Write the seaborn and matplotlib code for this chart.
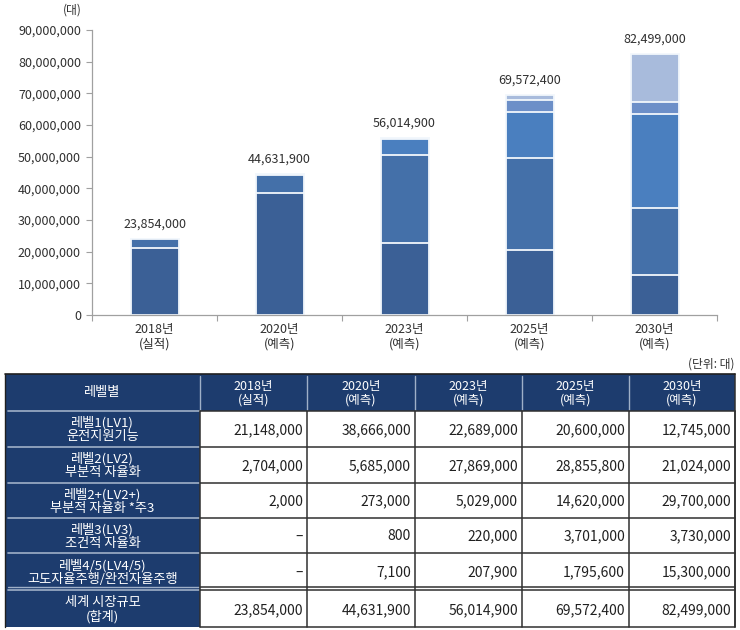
import numpy as np
import pandas as pd
import matplotlib
matplotlib.use("Agg")
import matplotlib.pyplot as plt
from matplotlib.patches import Rectangle
from matplotlib.ticker import FuncFormatter, FixedLocator
import seaborn as sns

# ---------------- data ----------------
years = ["2018년\n(실적)", "2020년\n(예측)", "2023년\n(예측)", "2025년\n(예측)", "2030년\n(예측)"]
level_names = ["레벨1(LV1)\n운전지원기능", "레벨2(LV2)\n부분적 자율화", "레벨2+(LV2+)\n부분적 자율화 *주3",
               "레벨3(LV3)\n조건적 자율화", "레벨4/5(LV4/5)\n고도자율주행/완전자율주행"]
lv1 = [21148000, 38666000, 22689000, 20600000, 12745000]
lv2 = [2704000, 5685000, 27869000, 28855800, 21024000]
lv2p = [2000, 273000, 5029000, 14620000, 29700000]
lv3 = [None, 800, 220000, 3701000, 3730000]
lv45 = [None, 7100, 207900, 1795600, 15300000]
totals = [23854000, 44631900, 56014900, 69572400, 82499000]
total_name = "세계 시장규모\n(합계)"

colors = ["#3b6096", "#4470a9", "#4a7fbf", "#6c8fc8", "#a8bbdc"]
sep_color = "#f2f7fc"

sns.set_style("white")
plt.rcParams["font.family"] = ["Noto Sans CJK KR", "DejaVu Sans"]

fig = plt.figure(figsize=(7.4, 6.3), dpi=100)

# ---------------- chart ----------------
ax = fig.add_axes([92 / 740, 1 - 315 / 630, 625 / 740, 285 / 630])
levels = [lv1, lv2, lv2p, lv3, lv45]
vals = np.array([[0 if v is None else v for v in lv] for lv in levels], dtype=float)
cum = np.cumsum(vals, axis=0)

for i in reversed(range(len(levels))):
    df = pd.DataFrame({"year": years, "v": cum[i]})
    sns.barplot(data=df, x="year", y="v", order=years, color=colors[i], saturation=1,
                width=0.384, edgecolor=sep_color, linewidth=1.3, errorbar=None, ax=ax)

for i, t in enumerate(totals):
    ax.annotate(f"{t:,}", (i, t), xytext=(0, 6), textcoords="offset points",
                ha="center", va="bottom", fontsize=9, color="#303030")

ax.set_xlim(-0.5, 4.5)
ax.set_ylim(0, 90000000)
ax.set_yticks(np.arange(0, 90000001, 10000000))
ax.yaxis.set_major_formatter(FuncFormatter(lambda v, p: f"{int(v):,}"))
ax.tick_params(axis="y", labelsize=9, labelcolor="#303030", length=4, width=0.8,
               color="#a0a0a0", left=True, pad=4)
# x ticks: marks at boundaries, labels at centers
ax.xaxis.set_major_locator(FixedLocator(np.arange(-0.5, 4.6, 1.0)))
ax.xaxis.set_minor_locator(FixedLocator(np.arange(0, 5)))
ax.set_xticklabels([""] * 6)
ax.set_xticklabels(years, minor=True)
ax.tick_params(axis="x", which="major", length=4, width=0.8, color="#a0a0a0", bottom=True)
ax.tick_params(axis="x", which="minor", length=0, labelsize=9, labelcolor="#303030", pad=6)
for lbl in ax.get_xticklabels(minor=True):
    lbl.set_linespacing(1.1)
ax.set_xlabel("")
ax.set_ylabel("")
for s in ["top", "right"]:
    ax.spines[s].set_visible(False)
for s in ["left", "bottom"]:
    ax.spines[s].set_color("#a0a0a0")
    ax.spines[s].set_linewidth(0.9)
fig.text(72 / 740, 1 - 10 / 630, "(대)", ha="center", va="center", fontsize=8.5, color="#303030")

# ---------------- table ----------------
tax = fig.add_axes([0, 0, 1, 1], zorder=-1)
tax.set_xlim(0, 740)
tax.set_ylim(630, 0)
tax.axis("off")

navy = "#1d3c6e"
light_line = "#9fb0c8"
col_x = [5, 200, 307, 415, 522, 629, 735]
row_y = [374, 411, 447, 483, 518, 553, 590, 627]

# navy header row and first column
tax.add_patch(Rectangle((col_x[0], row_y[0]), col_x[-1] - col_x[0], row_y[1] - row_y[0],
                        facecolor=navy, edgecolor="none"))
tax.add_patch(Rectangle((col_x[0], row_y[0]), col_x[1] - col_x[0], row_y[-1] - row_y[0],
                        facecolor=navy, edgecolor="none"))

# light lines inside navy areas
for c in col_x[1:-1]:
    tax.plot([c, c], [row_y[0] + 2, row_y[1]], color=light_line, lw=1)
for r in row_y[1:-1]:
    tax.plot([col_x[0] + 3, col_x[1]], [r, r], color=light_line, lw=1.2)
tax.plot([col_x[0] + 3, col_x[1]], [row_y[6] - 3, row_y[6] - 3], color=light_line, lw=1.0)

# dark lines for data cells
dark = "#303030"
for c in col_x[1:]:
    tax.plot([c, c], [row_y[1], row_y[-1]], color=dark, lw=1.1)
for r in row_y[2:-1]:
    tax.plot([col_x[1], col_x[-1]], [r, r], color=dark, lw=1.1)
tax.plot([col_x[1], col_x[-1]], [row_y[6] - 3, row_y[6] - 3], color=dark, lw=1.1)
tax.plot([col_x[1], col_x[-1]], [row_y[-1], row_y[-1]], color=dark, lw=1.1)
tax.plot([col_x[1], col_x[-1]], [row_y[1], row_y[1]], color=dark, lw=1.1)
tax.plot([col_x[-1], col_x[-1]], [row_y[0], row_y[-1]], color=dark, lw=1.1)
tax.plot([col_x[0], col_x[-1]], [row_y[0], row_y[0]], color="#202020", lw=1.2)
tax.plot([col_x[0], col_x[0]], [row_y[0], row_y[-1]], color="#202020", lw=1)

fs = 9
# header text
tax.text((col_x[0] + col_x[1]) / 2, (row_y[0] + row_y[1]) / 2, "레벨별", color="white",
         ha="center", va="center", fontsize=9.5)
for j, y in enumerate(years):
    tax.text((col_x[j + 1] + col_x[j + 2]) / 2, (row_y[0] + row_y[1]) / 2 + 1, y, color="white",
             ha="center", va="center", fontsize=fs, linespacing=1.05)

rows = [(level_names[k], levels[k]) for k in range(5)] + [(total_name, totals)]
for i, (name, data) in enumerate(rows):
    ytop, ybot = row_y[i + 1], row_y[i + 2]
    if i == 5:
        ytop += 1
    yc = (ytop + ybot) / 2 + 1
    tax.text((col_x[0] + col_x[1]) / 2, yc, name, color="white", ha="center", va="center",
             fontsize=9.5, linespacing=1.05)
    for j, v in enumerate(data):
        txt = "–" if v is None else f"{v:,}"
        tax.text(col_x[j + 2] - 4, yc, txt, color="#202020", ha="right", va="center", fontsize=10)

tax.text(735, 364, "(단위: 대)", ha="right", va="center", fontsize=8.5, color="#303030")

fig.savefig("out.png", dpi=100)
